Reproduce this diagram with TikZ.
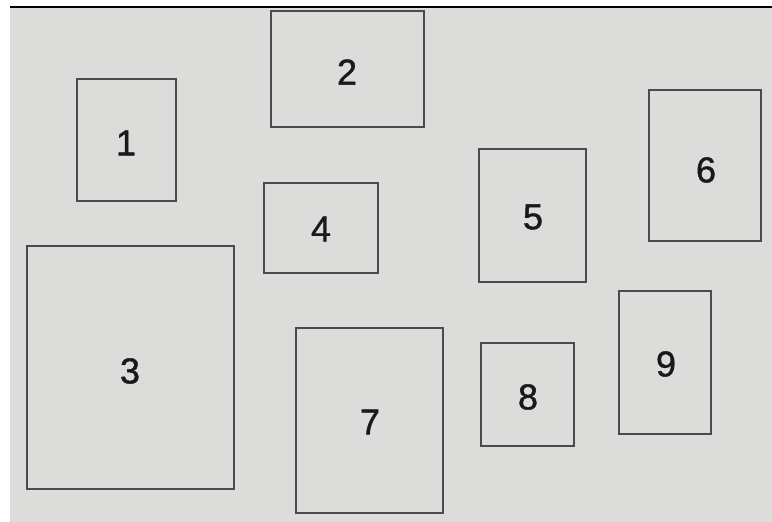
\documentclass[tikz,border=0pt]{standalone}
\usepackage{fontspec}
\setmainfont{Liberation Sans}
\newfontfamily\numfont[FakeBold=1.2]{Liberation Sans}
\definecolor{paper}{RGB}{220,220,218}
\definecolor{ink}{RGB}{75,75,75}
\begin{document}
\begin{tikzpicture}[x=1pt,y=-1pt,
  box/.style={draw=ink,line width=1.3pt},
  num/.style={inner sep=0pt,font=\numfont\fontsize{36}{36}\selectfont,text=black!90}]
\useasboundingbox (0,0) rectangle (772,522);
\fill[white] (0,0) rectangle (772,522);
\fill[paper] (10,7) rectangle (772,522);
\draw[black,line width=2pt] (10,7) -- (772,7);
% rectangles
\draw[box] (77,79) rectangle (176,201);
\draw[box] (271,11) rectangle (424,127);
\draw[box] (27,246) rectangle (234,489);
\draw[box] (264,183) rectangle (378,273);
\draw[box] (479,149) rectangle (586,282);
\draw[box] (649,90) rectangle (761,241);
\draw[box] (296,328) rectangle (443,513);
\draw[box] (481,343) rectangle (574,446);
\draw[box] (619,291) rectangle (711,434);
% labels
\node[num] (l1) at (126,143) {1};
\node[num] (l2) at (347,72) {2};
\node[num] (l3) at (130,371) {3};
\node[num] (l4) at (321,229) {4};
\node[num] (l5) at (533,217) {5};
\node[num] (l6) at (706,170) {6};
\node[num] (l7) at (370,422) {7};
\node[num] (l8) at (528,397) {8};
\node[num] (l9) at (666,364) {9};
\end{tikzpicture}
\end{document}
